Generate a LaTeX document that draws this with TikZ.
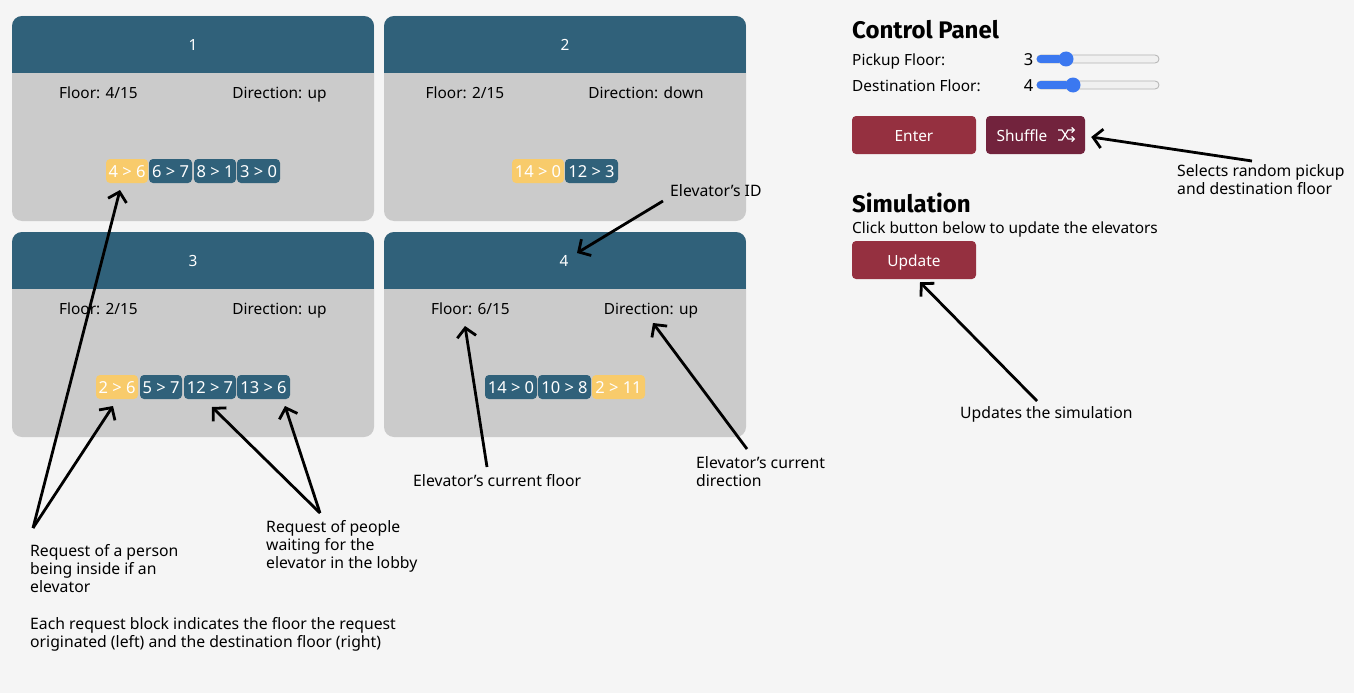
\documentclass[tikz,border=0pt]{standalone}
\usepackage{fontspec}
\setmainfont{Noto Sans}
\newfontfamily\titlefont{Fira Sans}
\usepackage{xcolor}
\usetikzlibrary{arrows, arrows.meta}
\usetikzlibrary{calc}

\definecolor{pagebg}{HTML}{F5F5F5}
\definecolor{cardgray}{HTML}{CBCBCB}
\definecolor{headblue}{HTML}{30617A}
\definecolor{reqyellow}{HTML}{F8CB6B}
\definecolor{btnred}{HTML}{953040}
\definecolor{btndark}{HTML}{72233D}
\definecolor{sliderblue}{HTML}{3B78F0}

\tikzset{
  card/.style={rounded corners=10pt, fill=cardgray, inner sep=0pt, minimum width=362pt, minimum height=205pt,
    path picture={\fill[headblue, sharp corners] (path picture bounding box.north west) rectangle ([yshift=-57pt]path picture bounding box.north east);}},
  basetext/.style={inner sep=0pt, font=\fontsize{15.4}{18}\selectfont, text height=12pt, text depth=0pt},
  idtext/.style={basetext, text=white},
  note/.style={inner sep=0pt, font=\fontsize{15.75}{18}\selectfont, align=left, anchor=north west},
  title/.style={inner sep=0pt, anchor=west, text height=17pt, text depth=0pt, font=\fontsize{24}{26}\selectfont\titlefont\bfseries},
  req/.style={rounded corners=4pt, inner sep=0pt, text=white, minimum height=24pt, minimum width=#1, text height=13pt, text depth=0pt, font=\fontsize{16.5}{18}\selectfont},
  reqin/.style={req=#1, fill=reqyellow},
  reqout/.style={req=#1, fill=headblue},
  btn/.style={rounded corners=4pt, inner sep=0pt, minimum height=38pt, text=white, text height=12pt, text depth=0pt, font=\fontsize{15.4}{18}\selectfont},
  track/.style={rounded corners=4pt, draw=black!30, fill=black!6, line width=0.8pt, inner sep=0pt, minimum width=122pt, minimum height=8pt},
  thumb/.style={circle, fill=sliderblue, inner sep=0pt, minimum size=15pt},
  trackfill/.style={line width=8pt, draw=sliderblue, line cap=round, shorten <=4pt},
  callout/.style={line width=2.8pt, draw=black, -{Straight Barb[length=9pt,width=19pt]}}
}

\begin{document}
\begin{tikzpicture}[x=1pt, y=-1pt]
    \useasboundingbox[fill=pagebg] (0,0) rectangle (1354,693);

    % elevator cards
    \node[card] (card1) at (193,118.5) {};
    \node[card] (card2) at (565,118.5) {};
    \node[card] (card3) at (193,334.5) {};
    \node[card] (card4) at (565,334.5) {};

    \node[idtext] (id1) at (193,45) {1};
    \node[idtext] (id2) at (565,45) {2};
    \node[idtext] (id3) at (193,260) {3};
    \node[idtext] (id4) at (564,260) {4};

    \node[basetext] (floor1) at (98.5,92) {Floor: 4/15};
    \node[basetext] (dir1) at (279.5,92) {Direction: up};
    \node[basetext] (floor2) at (465,92) {Floor: 2/15};
    \node[basetext] (dir2) at (646,92) {Direction: down};
    \node[basetext] (floor3) at (98.5,308) {Floor: 2/15};
    \node[basetext] (dir3) at (279.5,308) {Direction: up};
    \node[basetext] (floor4) at (470.5,308) {Floor: 6/15};
    \node[basetext] (dir4) at (651,308) {Direction: up};

    % request blocks
    \node[reqin=42pt] (r11) at (127,171) {4 > 6};
    \node[reqout=43pt] (r12) at (170.5,171) {6 > 7};
    \node[reqout=42pt] (r13) at (215,171) {8 > 1};
    \node[reqout=43pt] (r14) at (258.5,171) {3 > 0};

    \node[reqin=52pt] (r21) at (538,171) {14 > 0};
    \node[reqout=53pt] (r22) at (591.5,171) {12 > 3};

    \node[reqin=42pt] (r31) at (117,387) {2 > 6};
    \node[reqout=42pt] (r32) at (161,387) {5 > 7};
    \node[reqout=52pt] (r33) at (210,387) {12 > 7};
    \node[reqout=53pt] (r34) at (263.5,387) {13 > 6};

    \node[reqout=52pt] (r41) at (511,387) {14 > 0};
    \node[reqout=53pt] (r42) at (564.5,387) {10 > 8};
    \node[reqin=53pt] (r43) at (618.5,387) {2 > 11};

    % control panel
    \node[title] (paneltitle) at (852,30) {Control Panel};
    \node[basetext, anchor=west] (pickuplabel) at (852,60) {Pickup Floor:};
    \node[basetext, anchor=west] (destlabel) at (852,86) {Destination Floor:};
    \node[basetext, anchor=east, font=\fontsize{16.5}{18}\selectfont] (pickupval) at (1033.5,60) {3};
    \node[basetext, anchor=east, font=\fontsize{16.5}{18}\selectfont] (destval) at (1033.5,86) {4};

    \node[track] (track1) at (1098,59) {};
    \node[track] (track2) at (1098,85) {};
    \node[thumb] (thumb1) at (1066,59) {};
    \node[thumb] (thumb2) at (1073,85) {};
    \draw[trackfill] (track1.west) -- (thumb1);
    \draw[trackfill] (track2.west) -- (thumb2);

    \node[btn, fill=btnred, minimum width=124pt] (btnenter) at (914,135) {Enter};
    \node[btn, fill=btndark, minimum width=99pt] (btnshuffle) at (1035.5,135) {};
    \node[idtext] (txtshuffle) at (1022,135) {Shuffle};
    \draw[white, line width=1.2pt, -{Straight Barb[length=2.5pt,width=5pt]}] (1058,130) -- (1062,130) -- (1068,139) -- (1075,139);
    \draw[white, line width=1.2pt, -{Straight Barb[length=2.5pt,width=5pt]}] (1058,140) -- (1062,140) -- (1068,130) -- (1075,130);

    % simulation
    \node[title] (simtitle) at (852,204) {Simulation};
    \node[basetext, anchor=west] (simhint) at (852,227) {Click button below to update the elevators};
    \node[btn, fill=btnred, minimum width=124pt] (btnupdate) at (914,260) {Update};

    % notes
    \node[note] (noteperson) at (30,544) {Request of a person\\being inside if an\\elevator};
    \node[note] (noteblock) at (30,617) {Each request block indicates the floor the request\\originated (left) and the destination floor (right)};
    \node[note] (notelobby) at (266,520) {Request of people\\waiting for the\\elevator in the lobby};
    \node[note] (notefloor) at (413,474) {Elevator’s current floor};
    \node[note] (notedir) at (696,456) {Elevator’s current\\direction};
    \node[note] (noteid) at (670,184) {Elevator’s ID};
    \node[note] (notesel) at (1177,164) {Selects random pickup\\and destination floor};
    \node[note] (noteupd) at (960,406) {Updates the simulation};

    % arrows
    \draw[callout] ($(noteperson.north west)+(3,-16)$) -- ($(r11)+(-7,19)$);
    \draw[callout] ($(noteperson.north west)+(3,-16)$) -- ($(r31)+(-4,19)$);
    \draw[callout] ($(notelobby.north west)+(54,-7)$) -- ($(r33)+(2,20)$);
    \draw[callout] ($(notelobby.north west)+(54,-7)$) -- ($(r34)+(21.5,19)$);
    \draw[callout] ($(notefloor.north west)+(74,-7)$) -- ($(floor4)+(-5.5,18)$);
    \draw[callout] ($(notedir.north west)+(51,-7)$) -- ($(dir4)+(2,15)$);
    \draw[callout] ($(noteid.north west)+(-7,17)$) -- ($(id4)+(13,-7)$);
    \draw[callout] ($(notesel.north west)+(75,-3)$) -- ($(btnshuffle.east)+(6,2)$);
    \draw[callout] ($(noteupd.north west)+(77,-5)$) -- ($(btnupdate.south)+(6,3)$);
  \end{tikzpicture}
\end{document}
